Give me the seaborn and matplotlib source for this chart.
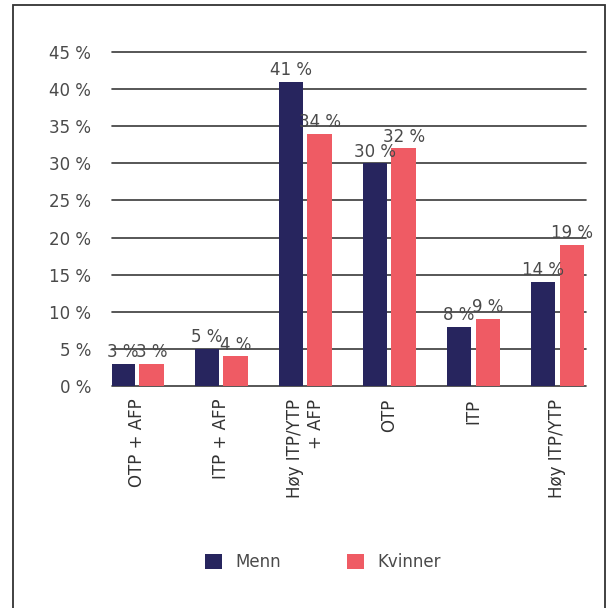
import pandas as pd
import matplotlib
matplotlib.use("Agg")
import matplotlib.pyplot as plt
from matplotlib.patches import Patch, Rectangle
import seaborn as sns

# --- data ---
categories = ["OTP + AFP", "ITP + AFP", "Høy ITP/YTP\n+ AFP", "OTP", "ITP", "Høy ITP/YTP"]
menn = [3, 5, 41, 30, 8, 14]
kvinner = [3, 4, 34, 32, 9, 19]
groups = ["Menn", "Kvinner"]
colors = {"Menn": "#27255E", "Kvinner": "#EF5B64"}
yticks = [0, 5, 10, 15, 20, 25, 30, 35, 40, 45]

df = pd.DataFrame({
    "kategori": categories * 2,
    "andel": menn + kvinner,
    "kjonn": ["Menn"] * len(menn) + ["Kvinner"] * len(kvinner),
})

sns.set_style("white")
plt.rcParams["font.family"] = ["DejaVu Sans"]

fig = plt.figure(figsize=(6.11, 6.08), dpi=100)
ax = fig.add_axes([112 / 611, 1 - 386 / 608, (586 - 112) / 611, (386 - 52) / 608])

sns.barplot(data=df, x="kategori", y="andel", hue="kjonn", hue_order=groups,
            palette=colors, width=0.68, gap=0.15, saturation=1, ax=ax,
            legend=False, zorder=3, linewidth=0)

# bar labels
for cont in ax.containers:
    vals = [b.get_height() for b in cont]
    ax.bar_label(cont, labels=[f"{v:.0f} %" for v in vals], padding=2,
                 fontsize=12, color="#4a4a4a", zorder=4)

ax.set_ylim(0, 45)
ax.set_xlim(-0.30, 5.34)
ax.set_yticks(yticks)
ax.set_yticklabels([f"{t} %" for t in yticks])
for t in yticks:
    ax.axhline(t, color="#3a3a3a", lw=1.2, zorder=1, clip_on=False)

for s in ax.spines.values():
    s.set_visible(False)
ax.tick_params(axis="y", length=0, pad=15, labelsize=12, labelcolor="#4a4a4a")
ax.tick_params(axis="x", length=0, pad=9, labelsize=12, labelcolor="#333333")
ax.set_xticks(range(len(categories)))
ax.set_xticklabels(categories, rotation=90, va="top", ha="center", multialignment="right")
ax.set_xlabel("")
ax.set_ylabel("")

handles = [Patch(facecolor=colors[g], edgecolor="none", label=g) for g in groups]
fig.legend(handles=handles, loc="center", bbox_to_anchor=(323 / 611, 1 - 562 / 608),
           ncol=2, frameon=False, fontsize=12, handlelength=1.0, handleheight=1.0,
           handletextpad=0.8, columnspacing=4.0, labelcolor="#4a4a4a")

# frame around the figure
fig.patches.append(Rectangle((13 / 611, -0.02), (605 - 13) / 611, 1 - 5 / 608 + 0.02,
                             transform=fig.transFigure, fill=False,
                             edgecolor="#333333", lw=1.3))

fig.savefig("out.png", dpi=100)
